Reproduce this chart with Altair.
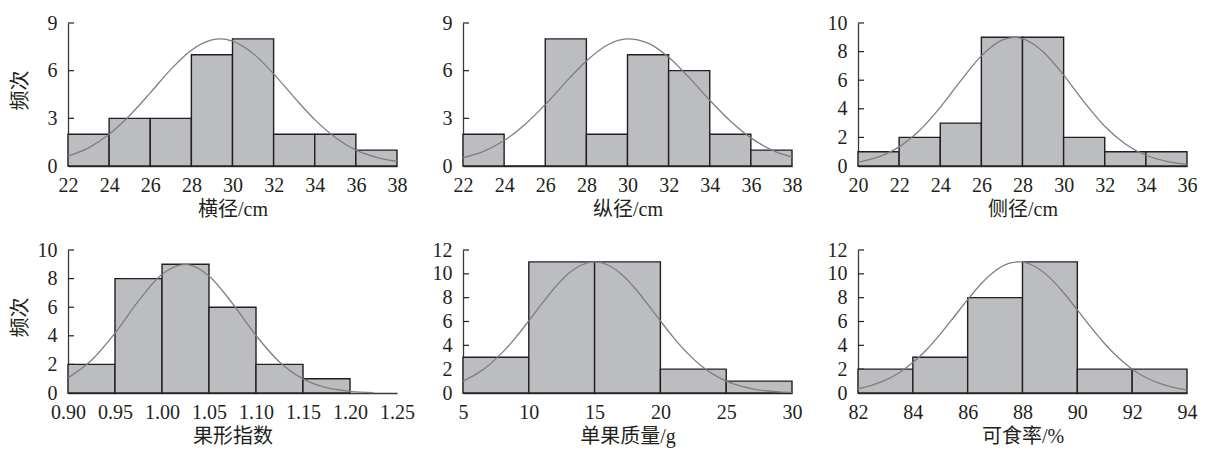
import altair as alt
import pandas as pd

# ---------- data ----------
# 横径/cm
p1_edges = [22, 24, 26, 28, 30, 32, 34, 36, 38]
p1_counts = [2, 3, 3, 7, 8, 2, 2, 1]
p1_cx = [22, 23, 24, 25, 26, 27, 28, 29, 29.4, 30, 31, 32, 33, 34, 35, 36, 37, 38]
p1_cy = [0.62, 1.14, 2.0, 3.18, 4.6, 6.08, 7.29, 7.94, 8.0, 7.86, 7.08, 5.8, 4.32, 2.92, 1.8, 1.0, 0.55, 0.3]

# 纵径/cm
p2_edges = [22, 24, 26, 28, 30, 32, 34, 36, 38]
p2_counts = [2, 0, 8, 2, 7, 6, 2, 1]
p2_cx = [22, 23, 24, 25, 26, 27, 28, 29, 30, 31, 32, 33, 34, 35, 36, 37, 38]
p2_cy = [0.52, 0.92, 1.6, 2.6, 3.86, 5.28, 6.61, 7.6, 8.0, 7.73, 6.84, 5.56, 4.14, 2.83, 1.77, 1.02, 0.56]

# 侧径/cm
p3_edges = [20, 22, 24, 26, 28, 30, 32, 34, 36]
p3_counts = [1, 2, 3, 9, 9, 2, 1, 1]
p3_cx = [20, 21, 22, 23, 24, 25, 26, 27, 27.6, 28, 29, 30, 31, 32, 33, 34, 35, 36]
p3_cy = [0.27, 0.64, 1.34, 2.5, 4.1, 5.97, 7.7, 8.8, 9.0, 8.91, 7.99, 6.35, 4.47, 2.78, 1.54, 0.75, 0.33, 0.13]

# 果形指数
p4_edges = [0.90, 0.95, 1.00, 1.05, 1.10, 1.15, 1.20]
p4_counts = [2, 8, 9, 6, 2, 1]
p4_cx = [0.900, 0.925, 0.950, 0.975, 1.000, 1.025, 1.050, 1.075, 1.100, 1.125, 1.150, 1.175, 1.200, 1.225]
p4_cy = [1.06, 2.29, 4.19, 6.44, 8.3, 9.0, 8.19, 6.26, 4.02, 2.17, 0.99, 0.37, 0.12, 0.03]

# 单果质量/g
p5_edges = [5, 10, 15, 20, 25, 30]
p5_counts = [3, 11, 11, 2, 1]
p5_cx = [5, 6, 7, 8, 9, 10, 11, 12, 13, 14, 15, 16, 17, 18, 19, 20, 21, 22, 23, 24, 25, 26, 27, 28, 29, 30]
p5_cy = [1.0, 1.58, 2.38, 3.41, 4.65, 6.05, 7.5, 8.87, 10.0, 10.74, 11.0, 10.74, 10.0, 8.87, 7.5,
         6.05, 4.65, 3.41, 2.38, 1.58, 1.0, 0.61, 0.35, 0.19, 0.1, 0.05]

# 可食率/%
p6_edges = [82, 84, 86, 88, 90, 92, 94]
p6_counts = [2, 3, 8, 11, 2, 2]
p6_cx = [82, 82.5, 83, 83.5, 84, 84.5, 85, 85.5, 86, 86.5, 87, 87.5, 87.85, 88, 88.5, 89, 89.5,
         90, 90.5, 91, 91.5, 92, 92.5, 93, 93.5, 94]
p6_cy = [0.37, 0.65, 1.08, 1.7, 2.55, 3.63, 4.94, 6.38, 7.84, 9.19, 10.24, 10.87, 11.0, 10.98, 10.55,
         9.66, 8.41, 6.97, 5.5, 4.13, 2.95, 2.0, 1.3, 0.8, 0.47, 0.26]

x_ticks_1 = [22, 24, 26, 28, 30, 32, 34, 36, 38]
x_ticks_3 = [20, 22, 24, 26, 28, 30, 32, 34, 36]
x_ticks_4 = [0.90, 0.95, 1.00, 1.05, 1.10, 1.15, 1.20, 1.25]
x_ticks_5 = [5, 10, 15, 20, 25, 30]
x_ticks_6 = [82, 84, 86, 88, 90, 92, 94]
y_ticks_9 = [0, 3, 6, 9]
y_ticks_10 = [0, 2, 4, 6, 8, 10]
y_ticks_12 = [0, 2, 4, 6, 8, 10, 12]

titles = ["横径/cm", "纵径/cm", "侧径/cm", "果形指数", "单果质量/g", "可食率/%"]
y_title = "频次"

W, H = 329, 143
BAR_FILL = "#bcbdc1"
DARK = "#231f20"
CURVE = "#7e7e7e"
NUM_FONT = "Liberation Serif"
CJK_FONT = "Liberation Serif, Noto Sans CJK SC"


def panel(edges, counts, cx, cy, xticks, yticks, xtitle, ytitle=None, fmt="d"):
    bars = pd.DataFrame({"x0": edges[:-1], "x1": edges[1:], "n": counts})
    curve = pd.DataFrame({"x": cx, "y": cy})
    tk = pd.DataFrame({"v": yticks})
    xs = alt.Scale(domain=[xticks[0], xticks[-1]], nice=False, zero=False)
    ys = alt.Scale(domain=[yticks[0], yticks[-1]], nice=False, zero=True)
    xaxis = alt.Axis(values=xticks, format=fmt, title=xtitle, labelFlush=False,
                     labelOverlap=False, labelPadding=9, titlePadding=4)
    ykw = dict(values=yticks, labelPadding=11, labelOverlap=False)
    if ytitle is not None:
        ykw.update(title=ytitle, titleX=-38, titleY=67)
    else:
        ykw["title"] = ""
    yaxis = alt.Axis(**ykw)

    rules = alt.Chart(tk).mark_rule(color=DARK, strokeWidth=1.2).encode(
        y=alt.Y("v:Q", scale=ys, axis=yaxis),
        x=alt.value(0), x2=alt.value(6),
    )
    b = alt.Chart(bars).mark_rect(fill=BAR_FILL, stroke=DARK, strokeWidth=1.4).encode(
        x=alt.X("x0:Q", scale=xs, axis=xaxis),
        x2="x1:Q",
        y=alt.Y("n:Q", scale=ys, axis=yaxis),
        y2=alt.datum(0),
    )
    c = alt.Chart(curve).mark_line(color=CURVE, strokeWidth=1.3, interpolate="monotone").encode(
        x=alt.X("x:Q", scale=xs, axis=xaxis),
        y=alt.Y("y:Q", scale=ys, axis=yaxis),
    )
    return alt.layer(rules, b, c).properties(width=W, height=H)


c1 = panel(p1_edges, p1_counts, p1_cx, p1_cy, x_ticks_1, y_ticks_9, titles[0], y_title)
c2 = panel(p2_edges, p2_counts, p2_cx, p2_cy, x_ticks_1, y_ticks_9, titles[1])
c3 = panel(p3_edges, p3_counts, p3_cx, p3_cy, x_ticks_3, y_ticks_10, titles[2])
c4 = panel(p4_edges, p4_counts, p4_cx, p4_cy, x_ticks_4, y_ticks_10, titles[3], y_title, fmt=".2f")
c5 = panel(p5_edges, p5_counts, p5_cx, p5_cy, x_ticks_5, y_ticks_12, titles[4])
c6 = panel(p6_edges, p6_counts, p6_cx, p6_cy, x_ticks_6, y_ticks_12, titles[5])

chart = (
    alt.concat(c1, c2, c3, c4, c5, c6, columns=3,
               spacing=alt.RowColnumber(row=84, column=66), bounds="flush")
    .properties(padding={"left": 2, "top": 5, "right": 2, "bottom": 2}, background="white")
    .configure_view(stroke=None)
    .configure_axis(
        grid=False, ticks=False,
        domainColor="#3a3a3a", domainWidth=1.3,
        labelFont=NUM_FONT, labelFontSize=20, labelColor=DARK,
        titleFont=CJK_FONT, titleFontSize=20, titleFontWeight="normal", titleColor=DARK,
    )
)

chart.save("out.html", embed_options={"renderer": "svg", "actions": False})
